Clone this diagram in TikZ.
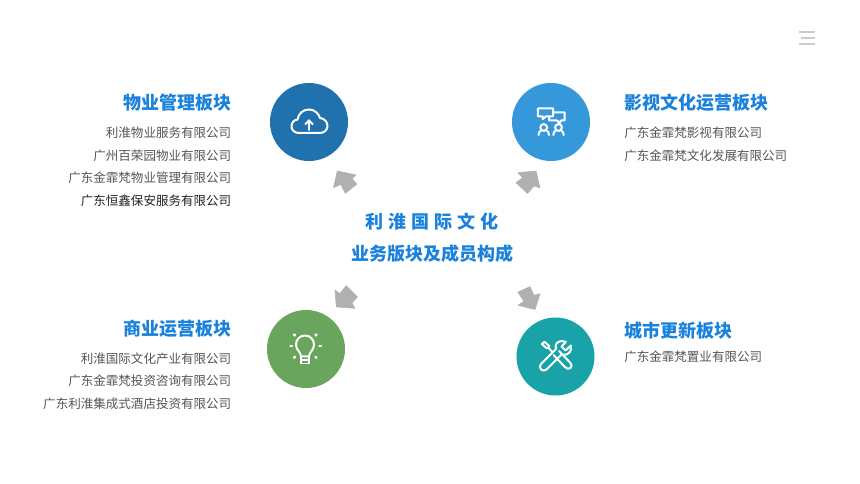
\documentclass[tikz,border=0pt]{standalone}
\usepackage{fontspec}
\setmainfont{Noto Sans CJK SC}
\definecolor{headblue}{HTML}{1A82DC}
\definecolor{bodygray}{HTML}{555555}
\definecolor{darktext}{HTML}{222222}
\definecolor{arrowgray}{HTML}{B0B0B0}
\definecolor{menugray}{HTML}{CCCCCC}
\definecolor{cblue}{HTML}{1F72AE}
\definecolor{clight}{HTML}{3498DB}
\definecolor{cgreen}{HTML}{69A55C}
\definecolor{cteal}{HTML}{19A3A9}
\tikzset{
  x=0.75pt,y=-0.75pt,
  disc/.style={circle,minimum size=58.5pt,inner sep=0pt,draw=none},
  headl/.style={anchor=east,inner sep=0pt,text=headblue,font=\fontsize{13.5}{16}\selectfont\bfseries},
  headr/.style={anchor=west,inner sep=0pt,text=headblue,font=\fontsize{13.5}{16}\selectfont\bfseries},
  bodyl/.style={anchor=east,inner sep=0pt,text=bodygray,font=\fontsize{9.4}{12}\selectfont},
  bodyr/.style={anchor=west,inner sep=0pt,text=bodygray,font=\fontsize{9.4}{12}\selectfont},
  center title/.style={anchor=center,inner sep=0pt,text=headblue,font=\fontsize{13.5}{16}\selectfont\bfseries},
  icon/.style={draw=white,line width=1.5pt,line join=round,line cap=round,fill=none},
  blockarrow/.style={fill=arrowgray,draw=arrowgray,line width=0.4pt,line join=round},
  menuline/.style={draw=menugray,line width=1.4pt}
}
\begin{document}
\begin{tikzpicture}
\useasboundingbox (0,0) rectangle (860,484);
\fill[white] (0,0) rectangle (860,484);
% menu
\draw[menuline] (799,32.3) -- (814.5,32.3);
\draw[menuline] (801,38.3) -- (814.5,38.3);
\draw[menuline] (799,44.3) -- (814.5,44.3);
% discs
\node[disc,fill=cblue]  (tl) at (309,122) {};
\node[disc,fill=clight] (tr) at (551,122) {};
\node[disc,fill=cgreen] (bl) at (306,349) {};
\node[disc,fill=cteal]  (br) at (555.5,356.5) {};
% block arrows
\fill[blockarrow] (337.3,171) -- (356,175) -- (352,178.7) -- (357,184) -- (345.3,193.3) -- (340.7,184.5) -- (333.5,187.7) -- cycle;
\fill[blockarrow] (536,171) -- (517.8,172.7) -- (522.7,177.7) -- (516,182.7) -- (527.5,193.5) -- (534,186) -- (540,188) -- cycle;
\fill[blockarrow] (336.3,307) -- (355,308.3) -- (352,302.7) -- (357.5,297) -- (346.3,285.7) -- (339.7,293.7) -- (335,290) -- cycle;
\fill[blockarrow] (535,309.5) -- (540,293.7) -- (534,295.3) -- (530,286.7) -- (517.8,292) -- (524,301.3) -- (518,305.3) -- cycle;
% cloud icon
\draw[icon] (299,133) .. controls (294,133) and (291.5,129.5) .. (291.5,126.5)
  .. controls (291.5,122.5) and (294,120) .. (297.5,119.5)
  .. controls (298.5,113.5) and (303,109.5) .. (309,109.5)
  .. controls (314,109.5) and (318.5,113) .. (320,118)
  .. controls (324.5,118.5) and (327.5,122) .. (327.5,126)
  .. controls (327.5,130) and (324,133) .. (320,133) -- cycle;
\draw[icon] (309,130) -- (309,121);
\draw[icon,line cap=butt,line join=miter] (305,124.5) -- (309,120.5) -- (313,124.5);
% people icon
\draw[icon] (537.8,108.5) -- (553,108.5) -- (553,116.3) -- (546,116.3) -- (542.7,119) -- (542.7,116.3) -- (537.8,116.3) -- cycle;
\draw[icon] (553,112.5) -- (564.5,112.5) -- (564.5,120.5) -- (561,120.5) -- (560,123) -- (557,120.5) -- (549,120.5) -- (549,116.3);
\draw[icon] (543.7,127.5) circle[radius=3.4];
\draw[icon] (558.5,127.5) circle[radius=3.4];
\draw[icon] (538.5,135) .. controls (538.5,132.5) and (539.5,131.5) .. (541,130.5);
\draw[icon] (549,135) .. controls (549,132.5) and (548,131.5) .. (546.4,130.5);
\draw[icon] (553.3,135) .. controls (553.3,132.5) and (554.3,131.5) .. (555.8,130.5);
\draw[icon] (563.7,135) .. controls (563.7,132.5) and (562.7,131.5) .. (561.2,130.5);
% bulb icon
\draw[icon] (301,356.5) .. controls (301,352) and (296,350.5) .. (296,344.5)
  .. controls (296,339.5) and (300,335.5) .. (305,335.5)
  .. controls (310,335.5) and (314,339.5) .. (314,344.5)
  .. controls (314,350.5) and (309,352) .. (309,356.5) -- cycle;
\draw[icon,line width=1.3pt] (301,356.5) -- (301,363.5) -- (309,363.5) -- (309,356.5);
\draw[icon,line width=1.1pt] (301,360) -- (309,360);
\draw[icon,line width=1.9pt] (294,334.5) -- (295,335.5);
\draw[icon,line width=1.9pt] (316.5,334.5) -- (315.5,335.5);
\draw[icon,line width=1.9pt] (290.5,346) -- (292,346);
\draw[icon,line width=1.9pt] (319.5,346) -- (321,346);
\draw[icon,line width=1.9pt] (294,357.8) -- (295,356.8);
\draw[icon,line width=1.9pt] (316.5,357.8) -- (315.5,356.8);
% tools icon
\draw[icon] (541.8,344) -- (544.5,341.8) -- (549,345.8) -- (548.5,348) -- (546,347.8) -- cycle;
\draw[icon] (548.5,348) -- (553,352.5);
\draw[icon] (553.5,355) -- (565,367) .. controls (566.5,369) and (569,369.5) .. (570.5,368)
  .. controls (572,366.5) and (572,364) .. (570,362.5) -- (559,351);
\draw[icon] (565.8,342) -- (561.5,346.5) -- (565.5,350.5) -- (570.8,345.5)
  .. controls (572,350) and (569.5,353.5) .. (566.5,354.5)
  .. controls (564.5,355) and (563,355) .. (561.5,354.5)
  -- (546.5,369.5) .. controls (545,371) and (542.5,371) .. (541,369.5)
  .. controls (539.5,368) and (539.5,365.5) .. (541,364)
  -- (556,349) .. controls (555.3,347) and (555.3,345) .. (556.5,343.5)
  .. controls (558.5,341) and (562.5,340.5) .. (565.8,342) -- cycle;
% centre title
\node[center title] (t1) at (432,221.5) {利\hspace{3.9pt}淮\hspace{3.9pt}国\hspace{3.9pt}际\hspace{3.9pt}文\hspace{3.9pt}化};
\node[center title] (t2) at (432.5,254) {业务版块及成员构成};
% top left
\node[headl] (h1) at (232,103) {物业管理板块};
\node[bodyl] (a1) at (231.5,133) {利淮物业服务有限公司};
\node[bodyl] (a2) at (231.5,155.5) {广州百荣园物业有限公司};
\node[bodyl] (a3) at (231.5,178) {广东金霏梵物业管理有限公司};
\node[bodyl,text=darktext] (a4) at (231.5,201) {广东恒鑫保安服务有限公司};
% top right
\node[headr] (h2) at (624,103) {影视文化运营板块};
\node[bodyr] (b1) at (624,133) {广东金霏梵影视有限公司};
\node[bodyr] (b2) at (624,155.5) {广东金霏梵文化发展有限公司};
% bottom left
\node[headl] (h3) at (232,329) {商业运营板块};
\node[bodyl] (c1) at (231.5,358.5) {利淮国际文化产业有限公司};
\node[bodyl] (c2) at (231.5,381) {广东金霏梵投资咨询有限公司};
\node[bodyl] (c3) at (231.5,403.5) {广东利淮集成式酒店投资有限公司};
% bottom right
\node[headr] (h4) at (624,331) {城市更新板块};
\node[bodyr] (d1) at (624,357) {广东金霏梵置业有限公司};
\end{tikzpicture}
\end{document}
